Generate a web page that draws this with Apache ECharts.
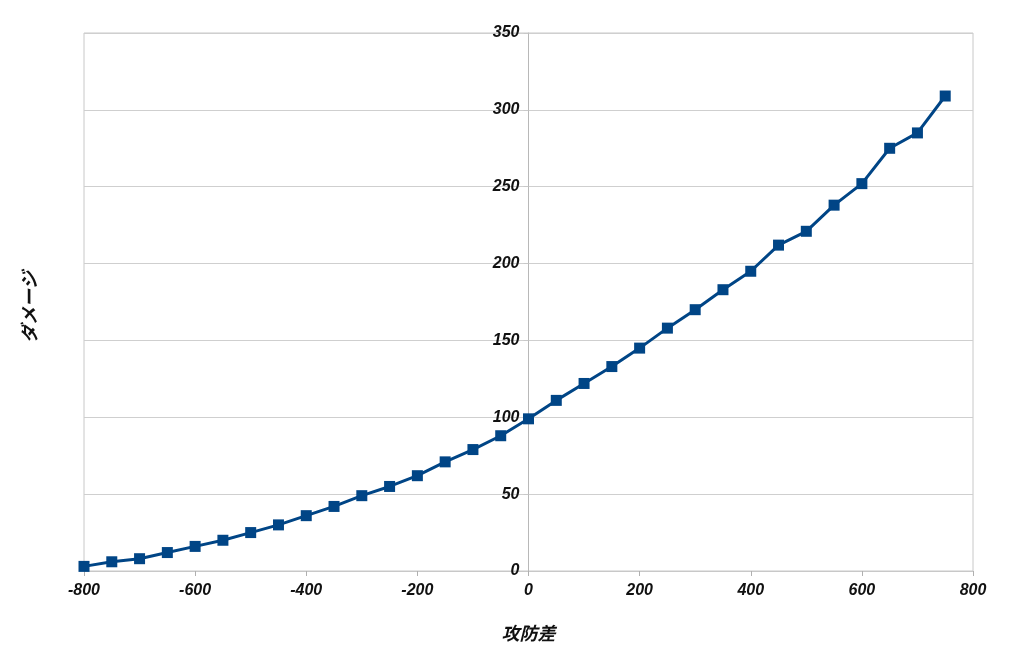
<!DOCTYPE html>
<html>
<head>
<meta charset="utf-8">
<script src="https://cdn.jsdelivr.net/npm/echarts@6/dist/echarts.min.js"></script>
<style>html,body{margin:0;padding:0;background:#fff}#c{width:1024px;height:666px}</style>
</head>
<body>
<div id="c"></div>
<script>
const xValues = [-800,-750,-700,-650,-600,-550,-500,-450,-400,-350,-300,-250,-200,-150,-100,-50,0,50,100,150,200,250,300,350,400,450,500,550,600,650,700,750];
const damage = [3,6,8,12,16,20,25,30,36,42,49,55,62,71,79,88,99,111,122,133,145,158,170,183,195,212,221,238,252,275,285,309];
const xAxisTitle = '攻防差';
const yAxisTitle = 'ダメージ';

const chart = echarts.init(document.getElementById('c'));
const labelFont = {fontFamily:'Liberation Sans, Arial, sans-serif', fontStyle:'italic', fontWeight:'bold', fontSize:16, color:'#111'};
chart.setOption({
  animation:false,
  backgroundColor:'#fff',
  grid:{left:84,right:51,top:33,bottom:95,show:true,borderColor:'#c8c8c8',borderWidth:1},
  xAxis:{
    type:'value',min:-800,max:800,interval:200,
    axisLine:{onZero:false,lineStyle:{color:'#c8c8c8'}},
    axisTick:{show:true,length:5,lineStyle:{color:'#b0b0b0'}},
    splitLine:{show:false},
    axisLabel:Object.assign({margin:12},labelFont),
    name:xAxisTitle,nameLocation:'middle',nameGap:53,
    nameTextStyle:{fontFamily:'Noto Sans CJK JP, sans-serif',fontStyle:'italic',fontWeight:'bold',fontSize:18,color:'#111'}
  },
  yAxis:{
    type:'value',min:0,max:350,interval:50,offset:-444.5,
    axisLine:{show:true,onZero:false,lineStyle:{color:'#b8b8b8'}},
    axisTick:{show:true,length:5,lineStyle:{color:'#c8c8c8'}},
    splitLine:{show:true,lineStyle:{color:'#cfcfcf',width:1}},
    axisLabel:Object.assign({margin:9},labelFont)
  },
  graphic:[{
    type:'text',x:29,y:307,rotation:Math.PI/2,
    style:{text:yAxisTitle,fontFamily:'Noto Sans CJK JP, sans-serif',fontStyle:'italic',fontWeight:'bold',fontSize:18,fill:'#111',align:'center',verticalAlign:'middle'}
  }],
  series:[{
    type:'line',
    data:xValues.map((x,i)=>[x,damage[i]]),
    symbol:'rect',symbolSize:11,
    lineStyle:{color:'#004586',width:3},
    itemStyle:{color:'#004586'}
  }]
});
</script>
</body>
</html>
